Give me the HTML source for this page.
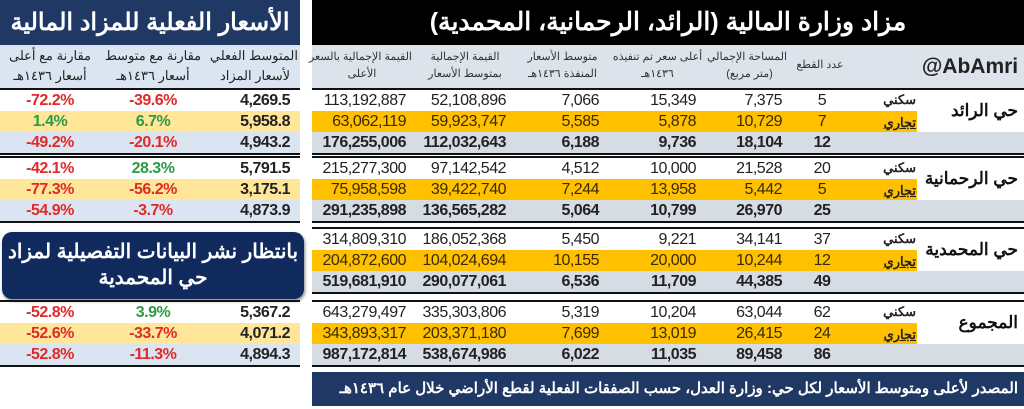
<!DOCTYPE html>
<html><head><meta charset="utf-8"><style>
body{margin:0;width:1024px;height:409px;background:#fff;position:relative;overflow:hidden;font-family:"Liberation Sans","Noto Sans CJK SC",sans-serif}
div{position:absolute;box-sizing:border-box}
.t{white-space:nowrap;line-height:21px;font-size:16px;letter-spacing:-0.5px}
.hd{font-size:11px;color:#333;text-align:center;line-height:17px;white-space:nowrap}
.hl{font-size:13px;color:#222;text-align:center;line-height:20px;white-space:nowrap}
</style></head><body>
<div style="left:0;top:0;width:300px;height:45px;background:#1f3864;color:#fff;font-weight:bold;font-size:24px;text-align:center;line-height:45px" dir="rtl">الأسعار الفعلية للمزاد المالية</div>
<div style="left:0;top:45px;width:300px;height:43px;background:#dbe5f1"></div>
<div class="hl" style="left:212px;top:46px;width:86px" dir="rtl">المتوسط الفعلي<br>لأسعار المزاد</div>
<div class="hl" style="left:103px;top:46px;width:100px" dir="rtl">مقارنة مع متوسط<br>أسعار ١٤٣٦هـ</div>
<div class="hl" style="left:2px;top:46px;width:96px" dir="rtl">مقارنة مع أعلى<br>أسعار ١٤٣٦هـ</div>

<div style="left:312px;top:0;width:712px;height:45px;background:#000;color:#fff;font-weight:bold;font-size:25px;text-align:center;line-height:45px" dir="rtl">مزاد وزارة المالية (الرائد، الرحمانية، المحمدية)</div>
<div style="left:312px;top:45px;width:712px;height:43px;background:#dde3ea"></div>
<div class="hd" style="left:312px;top:49px;width:100px" dir="rtl">القيمة الإجمالية بالسعر<br>الأعلى</div>
<div class="hd" style="left:420px;top:49px;width:90px" dir="rtl">القيمة الإجمالية<br>بمتوسط الأسعار</div>
<div class="hd" style="left:520px;top:49px;width:85px" dir="rtl">متوسط الأسعار<br>المنفذة ١٤٣٦هـ</div>
<div class="hd" style="left:610px;top:49px;width:95px" dir="rtl">أعلى سعر تم تنفيذه<br>١٤٣٦هـ</div>
<div class="hd" style="left:712px;top:49px;width:75px" dir="rtl">المساحة الإجمالي<br>(متر مربع)</div>
<div class="hd" style="left:795px;top:57px;width:50px" dir="rtl">عدد القطع</div>
<div style="left:920px;top:55px;width:100px;font-weight:bold;font-size:21px;text-align:center;color:#222">@AbAmri</div>

<div style="left:2px;top:232px;width:302px;height:67px;background:#102a5e;border-radius:10px;box-shadow:1px 2px 3px #888;color:#fff;font-weight:bold;font-size:20px;text-align:center;line-height:26px;padding-top:7px" dir="rtl">بانتظار نشر البيانات التفصيلية لمزاد<br>حي المحمدية</div>
<div style="left:312px;top:372px;width:712px;height:34px;background:#1f3864;color:#fff;font-weight:bold;font-size:15px;line-height:34px;padding-right:6px;text-align:right" dir="rtl">المصدر لأعلى ومتوسط الأسعار لكل حي: وزارة العدل، حسب الصفقات الفعلية لقطع الأراضي خلال عام ١٤٣٦هـ</div>

<script>
const districts=["حي الرائد","حي الرحمانية","حي المحمدية","المجموع"];
const rowTypes=["سكني","تجاري"];
const totalHigh=[["113,192,887","63,062,119","176,255,006"],["215,277,300","75,958,598","291,235,898"],["314,809,310","204,872,600","519,681,910"],["643,279,497","343,893,317","987,172,814"]];
const totalAvg=[["52,108,896","59,923,747","112,032,643"],["97,142,542","39,422,740","136,565,282"],["186,052,368","104,024,694","290,077,061"],["335,303,806","203,371,180","538,674,986"]];
const avgPrice=[["7,066","5,585","6,188"],["4,512","7,244","5,064"],["5,450","10,155","6,536"],["5,319","7,699","6,022"]];
const maxPrice=[["15,349","5,878","9,736"],["10,000","13,958","10,799"],["9,221","20,000","11,709"],["10,204","13,019","11,035"]];
const area=[["7,375","10,729","18,104"],["21,528","5,442","26,970"],["34,141","10,244","44,385"],["63,044","26,415","89,458"]];
const counts=[["5","7","12"],["20","5","25"],["37","12","49"],["62","24","86"]];
const actualAvg=[["4,269.5","5,958.8","4,943.2"],["5,791.5","3,175.1","4,873.9"],null,["5,367.2","4,071.2","4,894.3"]];
const vsAvg=[["-39.6%","6.7%","-20.1%"],["28.3%","-56.2%","-3.7%"],null,["3.9%","-33.7%","-11.3%"]];
const vsHigh=[["-72.2%","1.4%","-49.2%"],["-42.1%","-77.3%","-54.9%"],null,["-52.8%","-52.6%","-52.8%"]];
const tops=[90,158,229,302];const RH=21;
function box(n,x,y,w,h,bg){const d=document.createElement('div');


d.style.cssText=`left:${x}px;top:${y}px;width:${w}px;height:${h}px;background:${bg}`;document.body.appendChild(d);return d;}
function txt(n,s,x,y,w,align,bold,color,size){const d=document.createElement('div');


d.className='t';d.textContent=s;
d.style.cssText=`left:${x}px;top:${y}px;width:${w}px;text-align:${align};font-weight:${bold?'bold':'normal'};color:${color};${size?'font-size:'+size+'px;letter-spacing:0;':''}`;document.body.appendChild(d);return d;}
const pc=v=>v.startsWith('-')?'#e02a2a':'#2e9a44';
tops.forEach((t,g)=>{
  box('group-top-line',312,t-2,712,2,'#111');
  box('group-bottom-line',312,t+3*RH,712,2,'#111');
  box('commercial-row-bg',312,t+RH,605,RH,'#ffc000');
  box('total-row-bg',312,t+2*RH,712,RH,'#d6dce4');
  for(let r=0;r<3;r++){const y=t+r*RH,b=r==2,c=r==1?'#3a2a00':'#222';
    txt('total-high-value',totalHigh[g][r],312,y,94,'right',b,c);
    txt('total-avg-value',totalAvg[g][r],410,y,96,'right',b,c);
    txt('avg-price-value',avgPrice[g][r],510,y,89,'right',b,c);
    txt('max-price-value',maxPrice[g][r],600,y,96,'right',b,c);
    txt('area-value',area[g][r],700,y,82,'right',b,c);
    txt('count-value',counts[g][r],800,y,44,'center',b,c);
  }
  txt('type-residential',rowTypes[0],850,t-1,66,'right',true,'#222',13);
  const tc=txt('type-commercial',rowTypes[1],850,t+RH+1,66,'right',true,'#222',13);tc.style.textDecoration='underline';
  const dn=txt('district-name',districts[g],920,t+10,98,'right',true,'#111',17);dn.dir='rtl';
  if(actualAvg[g]){
    box('left-top-line',0,t-2,300,2,'#111');
    box('left-bottom-line',0,t+3*RH,300,2,'#111');
    box('left-commercial-bg',0,t+RH,300,RH,'#ffe699');
    box('left-total-bg',0,t+2*RH,300,RH,'#dbe5f1');
    for(let r=0;r<3;r++){const y=t+r*RH;
      txt('actual-avg-value',actualAvg[g][r],200,y,90,'right',true,'#222');
      txt('vs-avg-value',vsAvg[g][r],103,y,100,'center',true,pc(vsAvg[g][r]));
      txt('vs-high-value',vsHigh[g][r],0,y,100,'center',true,pc(vsHigh[g][r]));
    }
  }
});
</script>
</body></html>
